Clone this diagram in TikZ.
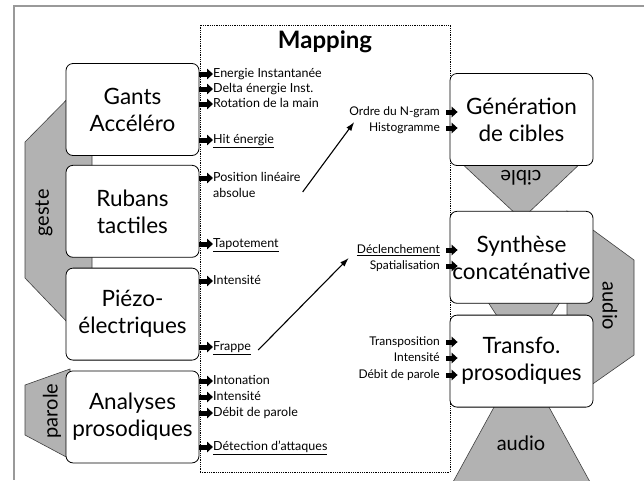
\documentclass[tikz,border=0pt]{standalone}
\usepackage{fontspec}
\setmainfont{Lato}
\usetikzlibrary{arrows.meta,positioning}
\tikzset{box/.style={draw, fill=white, rounded corners=7pt, line width=0.8pt, minimum width=133pt, minimum height=92pt, align=center, inner sep=0pt, font=\fontsize{22.5}{27}\selectfont}}
\tikzset{lbl/.style={anchor=west, inner sep=0pt, text height=9pt, text depth=2.5pt, font=\fontsize{12.5}{15}\selectfont}}
\tikzset{rlbl/.style={lbl, anchor=east, font=\fontsize{12}{14}\selectfont}}
\tikzset{inarrow/.style={line width=5pt, line cap=butt, -{Triangle[length=6pt,width=10.5pt]}}}
\tikzset{maparrow/.style={line width=1.1pt, -{Latex[length=9pt,width=6pt]}}}
\tikzset{band/.style={fill=black!30, draw=black!75, line width=0.6pt}}
\tikzset{bandtxt/.style={inner sep=0pt, font=\fontsize{20}{24}\selectfont}}

\begin{document}
\begin{tikzpicture}[x=1pt,y=-1pt]
  \useasboundingbox (0,0) rectangle (644,480);
  \draw[black!40, line width=2.4pt] (644,6) -- (14,6) -- (14,480);
  \node[draw, densely dotted, line width=0.8pt, minimum width=250pt, minimum height=447pt, inner sep=0pt] (map) at (325,248.5) {};
  \node[inner sep=0pt, font=\fontsize{24}{28}\selectfont\bfseries] (title) at ([yshift=-17pt]map.north) {Mapping};

  \draw[band] (25,142) -- (92,74) -- (92,348) -- (25,278) -- cycle;
  \draw[band] (25,385) -- (70,369) -- (70,459) -- (25,435) -- cycle;
  \draw[band] (458,160) -- (584,160) -- (525,216) -- (518,216) -- cycle;
  \draw[band] (486,299) -- (562,299) -- (551,316) -- (497,316) -- cycle;
  \draw[band] (567,211) -- (634,260) -- (634,355) -- (567,402) -- cycle;
  \draw[band] (499,398) -- (544,398) -- (590,482) -- (453,482) -- cycle;
  \node[bandtxt, rotate=90] (geste) at (44,213) {geste};
  \node[bandtxt, rotate=90] (parole) at (52,411) {parole};
  \node[bandtxt, rotate=180] (cible) at (521,178) {cible};
  \node[bandtxt, rotate=-90] (audiob) at (610,306) {audio};
  \node[bandtxt] (audioa) at (521,443) {audio};

  \node[box] (gants) at (132.5,109.5) {Gants\\Accéléro};
  \node[box, below=9pt of gants] (rubans) {Rubans\\tactiles};
  \node[box, below=10pt of rubans] (piezo) {Piézo-\\électriques};
  \node[box, below=10pt of piezo] (analyses) {Analyses\\prosodiques};
  \node[box, minimum width=143pt] (generation) at (521.5,119.5) {Génération\\de cibles};
  \node[box, minimum width=143pt, below=45pt of generation] (synthese) {Synthèse\\concaténative};
  \node[box, minimum width=143pt, below=11pt of synthese] (transfo) {Transfo.\\prosodiques};

  \node[lbl] (ener) at (213,74) {Energie Instantanée};
  \node[lbl] (delta) at (213,89) {Delta énergie Inst.};
  \node[lbl] (rot) at (213,104) {Rotation de la main};
  \node[lbl] (hit) at (213,140) {\underline{Hit énergie}};
  \node[lbl] (pos) at (213,178) {Position linéaire};
  \node[lbl, anchor=north west] (abs) at ([yshift=-4.5pt]pos.south west) {absolue};
  \node[lbl] (tap) at (213,244) {\underline{Tapotement}};
  \node[lbl] (intp) at (213,281) {Intensité};
  \node[lbl] (frap) at (213,347) {\underline{Frappe}};
  \node[lbl] (inton) at (213,381) {Intonation};
  \node[lbl] (inta) at (213,397) {Intensité};
  \node[lbl] (debita) at (213,413) {Débit de parole};
  \node[lbl] (detect) at (213,447) {\underline{Détection d'attaques}};

  \node[rlbl] (ordre) at (440,112) {Ordre du N-gram};
  \node[rlbl] (histo) at (440,128) {Histogramme};
  \node[rlbl] (decl) at (440,250) {\underline{Déclenchement}};
  \node[rlbl] (spat) at (440,266) {Spatialisation};
  \node[rlbl] (transp) at (440,342) {Transposition};
  \node[rlbl] (intt) at (440,358) {Intensité};
  \node[rlbl] (debitt) at (440,375) {Débit de parole};

  \foreach \s/\l in {gants/ener, gants/delta, gants/rot, gants/hit, rubans/pos, rubans/tap, piezo/intp, piezo/frap, analyses/inton, analyses/inta, analyses/debita, analyses/detect}
    \draw[inarrow] (\s.east |- \l.west) -- (\l.west);
  \foreach \l/\t in {ordre/generation, histo/generation, decl/synthese, spat/synthese, transp/transfo, intt/transfo, debitt/transfo}
    \draw[inarrow] ([xshift=6pt]\l.east) -- ([xshift=8pt]\t.west |- \l.east);

  \draw[maparrow] ([xshift=2pt,yshift=-8pt]pos.south east) -- ([xshift=5pt,yshift=-4pt]ordre.south west);
  \draw[maparrow] ([xshift=7pt,yshift=-3pt]frap.east) -- ([xshift=-8pt,yshift=-2pt]decl.south west);
\end{tikzpicture}
\end{document}
